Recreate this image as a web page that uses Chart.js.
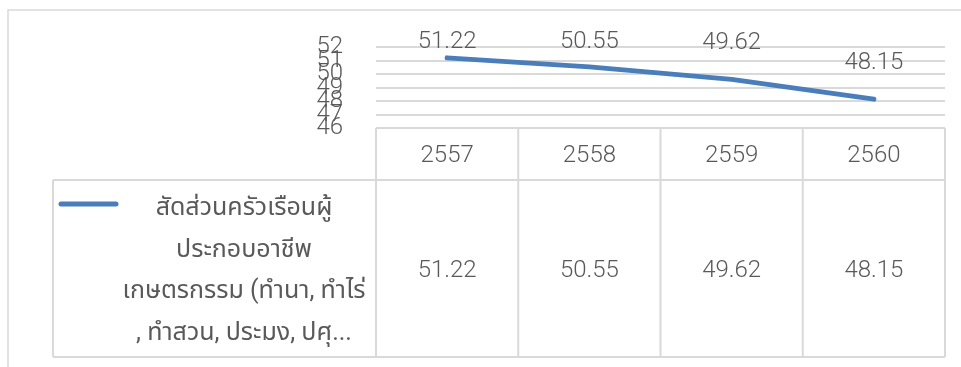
<!DOCTYPE html>
<html>
<head>
<meta charset="utf-8">
<script src="https://cdn.jsdelivr.net/npm/chart.js@4/dist/chart.umd.min.js"></script>
<style>
  html, body { margin: 0; padding: 0; background: #ffffff; }
  #wrap { position: relative; width: 961px; height: 367px; }
</style>
</head>
<body>
<div id="wrap"><canvas id="c" width="961" height="367"></canvas></div>
<script>
// ---- data ----
const categories = ['2557', '2558', '2559', '2560'];
const seriesValues = [51.22, 50.55, 49.62, 48.15];
const seriesName = 'สัดส่วนครัวเรือนผู้ประกอบอาชีพเกษตรกรรม (ทำนา, ทำไร่, ทำสวน, ประมง, ปศุสัตว์)';
const legendLines = ['สัดส่วนครัวเรือนผู้', 'ประกอบอาชีพ', 'เกษตรกรรม (ทำนา, ทำไร่', ', ทำสวน, ประมง, ปศุ...'];
const yTicks = [46, 47, 48, 49, 50, 51, 52];

const FONT = "Roboto, 'Noto Sans', 'Noto Sans Thai', sans-serif";
const TXT = '#595959';
const GRID = '#d9d9d9';
const BLUE = '#4a7ebb';
const NUMFONT = '300 24px ' + FONT;

const tablePlugin = {
  id: 'dataTable',
  afterDraw(chart, args, opts) {
    const ctx = chart.ctx;
    const xs = chart.scales.x;
    const area = chart.chartArea;
    const n = categories.length;
    const colW = (area.right - area.left) / n;
    const tTop = area.bottom;
    const hBot = tTop + opts.headerHeight;
    const tBot = hBot + opts.rowHeight;
    ctx.save();
    // outer chart border
    ctx.strokeStyle = GRID;
    ctx.lineWidth = 1.5;
    ctx.beginPath();
    ctx.moveTo(opts.frameLeft, chart.height + 2);
    ctx.lineTo(opts.frameLeft, opts.frameTop);
    ctx.lineTo(chart.width + 2, opts.frameTop);
    ctx.stroke();

    // table grid
    ctx.strokeStyle = GRID;
    ctx.lineWidth = 2;
    ctx.beginPath();
    ctx.moveTo(area.left, tTop); ctx.lineTo(area.right, tTop);
    ctx.moveTo(opts.legendLeft, hBot); ctx.lineTo(area.right, hBot);
    ctx.moveTo(opts.legendLeft, tBot); ctx.lineTo(area.right, tBot);
    for (let i = 0; i <= n; i++) {
      const x = area.left + i * colW;
      ctx.moveTo(x, tTop); ctx.lineTo(x, tBot);
    }
    ctx.moveTo(opts.legendLeft, hBot); ctx.lineTo(opts.legendLeft, tBot);
    ctx.stroke();

    // header + values
    ctx.fillStyle = TXT;
    ctx.font = NUMFONT;
    ctx.textAlign = 'center';
    ctx.textBaseline = 'middle';
    categories.forEach((c, i) => {
      const x = xs.getPixelForValue(i);
      ctx.fillText(c, x, (tTop + hBot) / 2 + 2);
      ctx.fillText(seriesValues[i].toFixed(2), x, (hBot + tBot) / 2 + 2);
    });

    // legend key
    ctx.strokeStyle = BLUE;
    ctx.lineWidth = 5;
    ctx.lineCap = 'round';
    ctx.beginPath();
    ctx.moveTo(opts.keyX0, opts.keyY);
    ctx.lineTo(opts.keyX1, opts.keyY);
    ctx.stroke();

    // legend text
    ctx.font = '400 25px ' + FONT;
    ctx.fillStyle = TXT;
    legendLines.forEach((t, i) => {
      ctx.fillText(t, opts.legendTextX, opts.legendTextY0 + i * opts.legendLineH);
    });

    // data labels above the line
    ctx.font = NUMFONT;
    const meta = chart.getDatasetMeta(0);
    meta.data.forEach((pt, i) => {
      ctx.fillText(seriesValues[i].toFixed(2), pt.x, pt.y - opts.labelOffsets[i]);
    });
    ctx.restore();
  }
};

new Chart(document.getElementById('c'), {
  type: 'line',
  data: {
    labels: categories,
    datasets: [{
      label: seriesName,
      data: seriesValues,
      borderColor: BLUE,
      borderWidth: 5,
      borderCapStyle: 'round',
      borderJoinStyle: 'round',
      pointRadius: 0,
      tension: 0,
      fill: false
    }]
  },
  options: {
    responsive: false,
    animation: false,
    devicePixelRatio: 1,
    layout: { padding: { left: 0, right: 16, top: 43, bottom: 0 } },
    plugins: {
      legend: { display: false },
      tooltip: { enabled: false },
      dataTable: {
        headerHeight: 52,
        rowHeight: 177,
        legendLeft: 53,
        frameLeft: 8,
        frameTop: 10,
        keyX0: 61, keyX1: 116, keyY: 204,
        legendTextX: 244, legendTextY0: 209, legendLineH: 41.5,
        labelOffsets: [16, 25, 36, 36]
      }
    },
    scales: {
      x: {
        type: 'category',
        offset: true,
        grid: { display: false, drawTicks: false },
        border: { display: false },
        ticks: { display: false },
        afterFit(s) { s.height = 367 - 128; }
      },
      y: {
        min: 46,
        max: 52,
        afterBuildTicks(s) { s.ticks = yTicks.map(v => ({ value: v })); },
        grid: { color: GRID, lineWidth: 2, drawTicks: false },
        border: { display: false },
        ticks: {
          color: TXT,
          autoSkip: false,
          font: { family: FONT, size: 24, weight: '300' },
          padding: 33,
          callback: v => String(v)
        },
        afterFit(s) { s.width = 376; }
      }
    }
  },
  plugins: [tablePlugin]
});
</script>
</body>
</html>
